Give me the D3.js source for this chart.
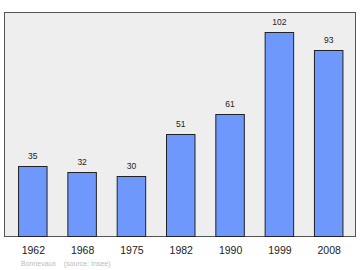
<!DOCTYPE html>
<html><head><meta charset="utf-8">
<script src="https://cdn.jsdelivr.net/npm/d3@7"></script>
<style>body{margin:0;background:#fff}svg{display:block}text{font-family:"Liberation Sans",Arial,sans-serif}</style>
</head><body>
<script>
const years = ["1962","1968","1975","1982","1990","1999","2008"];
const population = [35,32,30,51,61,102,93];
const sourceText = "Bonnevaux    (source: Insee)";

const W=360,H=270;
const frame={l:4.5,t:12.5,r:355.5,b:236.5};
const svg=d3.select("body").append("svg").attr("width",W).attr("height",H);

const x=d3.scalePoint().domain(years).range([32.8,328.7]);
const y=d3.scaleLinear().domain([0,112]).range([frame.b,frame.t]);
const bw=28.5;

svg.append("rect").attr("x",frame.l).attr("y",frame.t).attr("width",frame.r-frame.l).attr("height",frame.b-frame.t)
  .attr("fill","#eeeeee").attr("stroke","#555").attr("stroke-width",1);

svg.selectAll("rect.bar").data(population).enter().append("rect").attr("class","bar")
  .attr("x",(d,i)=>x(years[i])-bw/2).attr("y",d=>y(d)).attr("width",bw).attr("height",d=>frame.b-y(d))
  .attr("fill","#6f98fc").attr("stroke","#222").attr("stroke-width",1);

svg.selectAll("text.val").data(population).enter().append("text").attr("class","val")
  .attr("x",(d,i)=>x(years[i])).attr("y",d=>y(d)-8).attr("text-anchor","middle")
  .attr("font-size",8.5).attr("fill","#222").text(d=>d);

const ax=svg.append("g").attr("transform",`translate(0,${frame.b})`)
  .call(d3.axisBottom(x).tickSize(0).tickPadding(10.5));
ax.select(".domain").remove();
ax.selectAll("text").attr("font-size",10.5).attr("fill","#222").style("font-family","'Liberation Sans',Arial,sans-serif");

svg.append("text").attr("x",21).attr("y",265.5).attr("font-size",7).attr("fill","#bbb")
  .attr("xml:space","preserve").style("white-space","pre").text(sourceText);
</script>
</body></html>
